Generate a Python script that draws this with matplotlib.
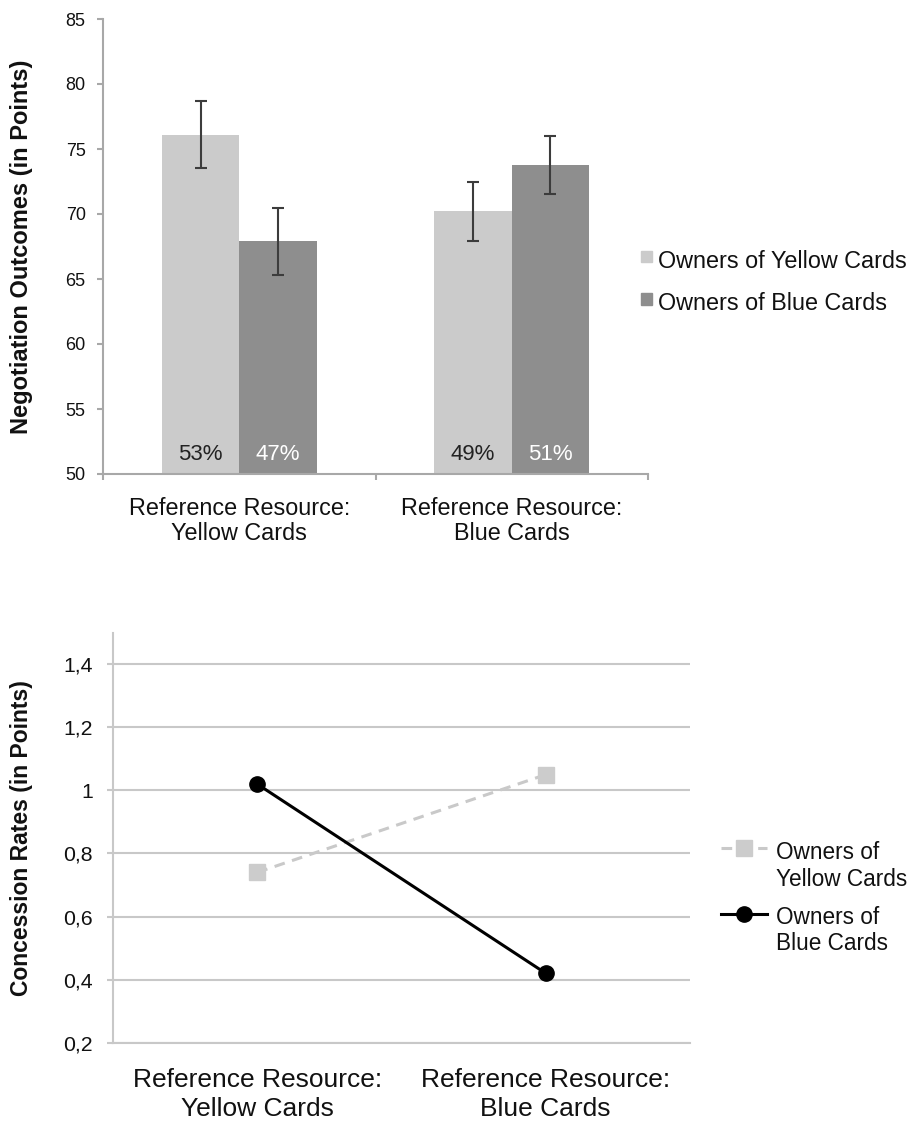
import matplotlib
matplotlib.use("Agg")
import matplotlib.pyplot as plt
from matplotlib.lines import Line2D
from matplotlib.patches import Rectangle
import numpy as np

plt.rcParams["font.family"] = ["Liberation Sans", "DejaVu Sans"]

# ---- data -------------------------------------------------------------
conditions = ["Reference Resource:\nYellow Cards", "Reference Resource:\nBlue Cards"]
owner_groups = ["Owners of Yellow Cards", "Owners of Blue Cards"]

outcome_yellow = [76.1, 70.2]
outcome_blue = [67.9, 73.8]
se_yellow = [2.58, 2.30]
se_blue = [2.57, 2.23]
share_yellow = ["53%", "49%"]
share_blue = ["47%", "51%"]
outcome_ticks = [50, 55, 60, 65, 70, 75, 80, 85]

concession_yellow = [0.74, 1.05]
concession_blue = [1.02, 0.42]
concession_ticks = [0.2, 0.4, 0.6, 0.8, 1.0, 1.2, 1.4]
concession_ticklabels = ["0,2", "0,4", "0,6", "0,8", "1", "1,2", "1,4"]

# ---- colours ----------------------------------------------------------
LIGHT = "#cbcbcb"
DARK = "#8e8e8e"
AXIS = "#a8a8a8"
GRID = "#c8c8c8"
TEXT = "#111111"

W, H = 910, 1122
fig = plt.figure(figsize=(W / 100, H / 100), dpi=100)


def axes_px(left, top, right, bottom):
    return fig.add_axes([left / W, 1 - bottom / H, (right - left) / W, (bottom - top) / H])


def fx(px):
    return px / W


def fy(px):
    return 1 - px / H


# ---- top panel: negotiation outcomes -----------------------------------
ax1 = axes_px(103, 19, 648, 474)
x = np.arange(len(conditions))
bw = 0.2844
err_style = dict(ecolor="#3c3c3c", elinewidth=1.5, capsize=4, capthick=1.5)
ax1.bar(x - bw / 2, outcome_yellow, bw, color=LIGHT, yerr=se_yellow,
        error_kw=err_style, zorder=2)
ax1.bar(x + bw / 2, outcome_blue, bw, color=DARK, yerr=se_blue,
        error_kw=err_style, zorder=2)

for i in range(len(conditions)):
    ax1.annotate(share_yellow[i], xy=(x[i] - bw / 2, 50), xytext=(0, 10),
                 textcoords="offset points", ha="center", va="baseline",
                 fontsize=16, color="#222222")
    ax1.annotate(share_blue[i], xy=(x[i] + bw / 2, 50), xytext=(0, 10),
                 textcoords="offset points", ha="center", va="baseline",
                 fontsize=16, color="white")

ax1.set_xlim(-0.5, len(conditions) - 0.5)
ax1.set_ylim(50, 85)
ax1.set_yticks(outcome_ticks)
ax1.set_yticklabels([str(t) for t in outcome_ticks], fontsize=13, color=TEXT)
ax1.set_xticks(np.arange(len(conditions) + 1) - 0.5)
ax1.set_xticklabels([])
ax1.set_xticks(x, minor=True)
ax1.set_xticklabels(conditions, minor=True, fontsize=16.8, color=TEXT,
                    linespacing=1.13)
ax1.tick_params(axis="x", which="major", direction="out", length=4.5,
                width=1.5, color=AXIS)
ax1.tick_params(axis="x", which="minor", length=0, pad=16.5)
ax1.tick_params(axis="y", direction="out", length=4.5, width=1.5,
                color=AXIS, pad=8)
for side in ("top", "right"):
    ax1.spines[side].set_visible(False)
for side in ("left", "bottom"):
    ax1.spines[side].set_color(AXIS)
    ax1.spines[side].set_linewidth(1.5)
ax1.set_ylabel("Negotiation Outcomes (in Points)", fontsize=17,
               fontweight="bold", color=TEXT)
ax1.yaxis.set_label_coords(-0.128, 0.5)

# legend of the top panel
for (label, color, sq_top, base) in [
    (owner_groups[0], LIGHT, 250.7, 268),
    (owner_groups[1], DARK, 292.7, 310),
]:
    fig.patches.append(Rectangle((fx(640.5), fy(sq_top + 11.8)), 11.8 / W, 11.8 / H,
                                 transform=fig.transFigure, color=color))
    fig.text(fx(658), fy(base), label, fontsize=16.8, color=TEXT,
             ha="left", va="baseline")

# ---- bottom panel: concession rates ------------------------------------
ax2 = axes_px(113, 632.7, 690, 1042.7)
ax2.plot(x, concession_yellow, color="#c9c9c9", lw=2.2, dashes=(3.5, 2.5),
         marker="s", ms=11, mfc="#cccccc", mec="#cccccc", zorder=3)
ax2.plot(x, concession_blue, color="black", lw=2.2, marker="o", ms=11,
         zorder=4)
ax2.set_xlim(-0.5, len(conditions) - 0.5)
ax2.set_ylim(0.2, 1.5)
ax2.set_yticks(concession_ticks)
ax2.set_yticklabels(concession_ticklabels, fontsize=15.3, color=TEXT)
ax2.set_xticks(x)
ax2.set_xticklabels(conditions, fontsize=19, color=TEXT, linespacing=1.29)
ax2.tick_params(axis="x", length=0, pad=18)
ax2.tick_params(axis="y", direction="out", length=4.5, width=1.5,
                color=GRID, pad=10)
ax2.yaxis.grid(True, color=GRID, lw=1.5)
ax2.set_axisbelow(True)
for side in ("top", "right"):
    ax2.spines[side].set_visible(False)
for side in ("left", "bottom"):
    ax2.spines[side].set_color(GRID)
    ax2.spines[side].set_linewidth(1.5)
ax2.set_ylabel("Concession Rates (in Points)", fontsize=16.5,
               fontweight="bold", color=TEXT)
ax2.yaxis.set_label_coords(-0.1386, 0.5)

# legend of the bottom panel
legend_rows = [
    ("Owners of\nYellow Cards", dict(color="#c9c9c9", lw=2.2, dashes=(3.5, 2.5),
                                     marker="s", ms=11, mfc="#cccccc", mec="#cccccc"),
     848.3, 885.7),
    ("Owners of\nBlue Cards", dict(color="black", lw=2.2, marker="o", ms=11),
     913.5, 950.0),
]
for label, style, ly, base in legend_rows:
    fig.add_artist(Line2D([fx(720.7), fx(743.7), fx(766.7)], [fy(ly)] * 3,
                          transform=fig.transFigure, markevery=[1], **style))
    fig.text(fx(776), fy(base), label, fontsize=16.3, color=TEXT,
             ha="left", va="baseline", linespacing=1.18)

fig.savefig("out.png", dpi=100)
